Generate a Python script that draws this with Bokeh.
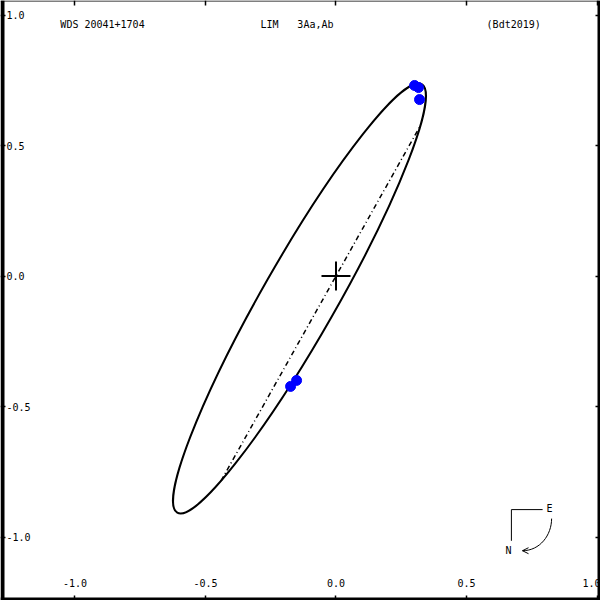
import numpy as np
from bokeh.plotting import figure
from bokeh.models import Range1d, LinearAxis, FixedTicker, PrintfTickFormatter
from bokeh.core.properties import value
from bokeh.embed import file_html
from bokeh.resources import INLINE

# ---------------- data ----------------
header_text = ["WDS 20041+1704", "LIM", "3Aa,Ab", "(Bdt2019)"]
header_x = [-1.056, -0.289, -0.148, 0.577]
header_y = [0.964, 0.964, 0.964, 0.964]

tick_values = [-1.0, -0.5, 0.0, 0.5, 1.0]
tick_labels = ["-1.0", "-0.5", "0.0", "0.5", "1.0"]

# apparent orbit (arcsec)
orbit_center_x = -0.140
orbit_center_y = -0.086
orbit_semi_major = 0.945
orbit_semi_minor = 0.142
orbit_pa_deg = 60.3
node_line_deg = 60.7

# observed positions
obs_x = [0.301, 0.316, 0.320, -0.151, -0.174]
obs_y = [0.730, 0.722, 0.676, -0.400, -0.423]

# primary
primary_x = [0.0]
primary_y = [0.0]

# compass
compass_x = 0.672
compass_y = -0.895
compass_len = 0.115

# plot window (arcsec)
x_min, x_max = -1.2854, 1.0134
y_min, y_max = -1.2433, 1.0556

FONT = "DejaVu Sans Mono"
PX = 1.0 / 261.0   # one pixel in data units

p = figure(width=600, height=600, x_range=Range1d(x_min, x_max), y_range=Range1d(y_min, y_max),
           output_backend="svg", toolbar_location=None, x_axis_location=None, y_axis_location=None,
           min_border=0)
p.grid.visible = False
p.outline_line_color = None
p.background_fill_color = "white"
p.border_fill_color = "white"

# ----- axes (ticks inside the frame) -----
def add_axis(loc, side, show_labels, standoff):
    ax = LinearAxis(fixed_location=loc, ticker=FixedTicker(ticks=tick_values),
                    formatter=PrintfTickFormatter(format="%.1f"),
                    major_label_overrides={v: l for v, l in zip(tick_values, tick_labels)},
                    axis_line_color=None, major_tick_in=0, major_tick_out=5,
                    minor_tick_in=0, minor_tick_out=0, major_tick_line_width=1.5,
                    major_tick_line_color="black",
                    major_label_standoff=standoff,
                    major_label_text_font=FONT, major_label_text_font_size="10px",
                    major_label_text_color="black")
    if not show_labels:
        ax.major_label_text_alpha = 0
    p.add_layout(ax, side)

add_axis(y_min, "above", True, 9)    # bottom edge, labels above it
add_axis(x_min, "right", True, 1)    # left edge, labels to its right
add_axis(y_max, "below", False, 0)   # top edge
add_axis(x_max, "left", False, 0)    # right edge

# ----- frame border -----
p.quad(left=[x_min, x_max - 3 * PX, x_min, x_min],
       right=[x_min + 4 * PX, x_max, x_max, x_max],
       bottom=[y_min, y_min, y_min, y_max - 1 * PX],
       top=[y_max, y_max, y_min + 3 * PX, y_max],
       color="black", line_color=None)

# ----- orbit ellipse -----
theta = np.radians(orbit_pa_deg)
p.ellipse(x=[orbit_center_x], y=[orbit_center_y], width=[2 * orbit_semi_major],
          height=[2 * orbit_semi_minor], angle=theta, fill_color=None,
          line_color="black", line_width=2)

# ----- line of nodes (through the primary, ending on the orbit) -----
phi = np.radians(node_line_deg)
dx, dy = np.cos(phi), np.sin(phi)
ct, st = np.cos(theta), np.sin(theta)
ua, ub = dx * ct + dy * st, -(orbit_center_x * ct + orbit_center_y * st)
va, vb = -dx * st + dy * ct, (orbit_center_x * st - orbit_center_y * ct)
A = ua ** 2 / orbit_semi_major ** 2 + va ** 2 / orbit_semi_minor ** 2
B = 2 * (ua * ub / orbit_semi_major ** 2 + va * vb / orbit_semi_minor ** 2)
C = ub ** 2 / orbit_semi_major ** 2 + vb ** 2 / orbit_semi_minor ** 2 - 1
disc = np.sqrt(B * B - 4 * A * C)
t1, t2 = (-B - disc) / (2 * A), (-B + disc) / (2 * A)
p.line(x=[t1 * dx, t2 * dx], y=[t1 * dy, t2 * dy], line_color="black",
       line_width=1.5, line_dash="5 3 1 3")

# ----- observations -----
p.scatter(x=obs_x, y=obs_y, size=10, color="#0000ff", line_color="#0000ff")

# ----- primary -----
p.scatter(x=primary_x, y=primary_y, marker="cross", size=29, line_color="black", line_width=2)

# ----- header -----
p.text(x=header_x, y=header_y, text=header_text, text_font=value(FONT),
       text_font_size="10px", text_baseline="middle", text_align="left", text_color="black")

# ----- compass -----
L = compass_len
p.line(x=[compass_x + L * 1.04, compass_x, compass_x],
       y=[compass_y, compass_y, compass_y - L * 1.04], line_color="black", line_width=1)
p.text(x=[compass_x + 1.27 * L, compass_x - 0.10 * L], y=[compass_y + 0.03 * L, compass_y - 1.37 * L],
       text=["E", "N"], text_font=value(FONT), text_font_size="10px",
       text_baseline="middle", text_align="center", text_color="black")
ax0, ay0 = compass_x + 1.34 * L, compass_y - 0.30 * L
ax3, ay3 = compass_x + 0.37 * L, compass_y - 1.37 * L
p.bezier(x0=[ax0], y0=[ay0], x1=[ax3], y1=[ay3],
         cx0=[ax0], cy0=[compass_y - 0.85 * L], cx1=[compass_x + 0.95 * L], cy1=[ay3],
         line_color="black", line_width=1)
p.segment(x0=[ax3, ax3], y0=[ay3, ay3], x1=[ax3 + 0.2 * L, ax3 + 0.2 * L],
          y1=[ay3 + 0.10 * L, ay3 - 0.10 * L], line_color="black", line_width=1)

open("out.html", "w").write(file_html(p, INLINE))
